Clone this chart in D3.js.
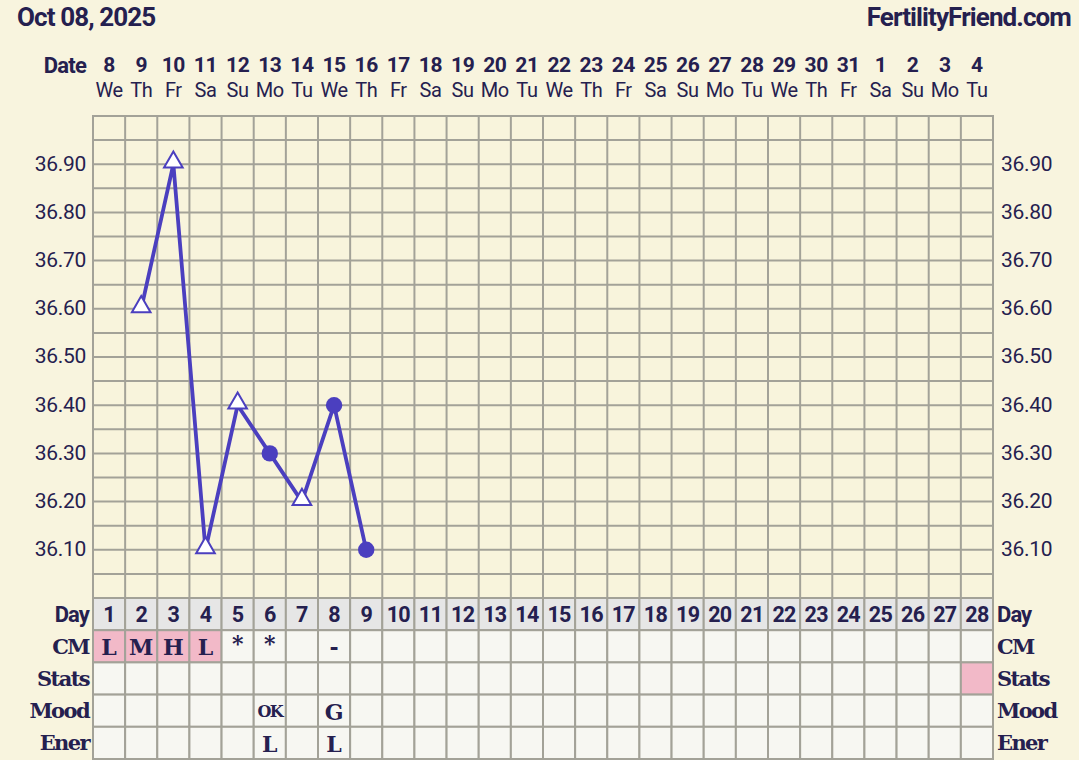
<!DOCTYPE html>
<html><head><meta charset="utf-8">
<script src="https://cdn.jsdelivr.net/npm/d3@7"></script>
<style>
html,body{margin:0;padding:0;background:#f8f4de;}
svg{display:block;}
</style></head>
<body>
<svg id="chart" width="1079" height="760"></svg>
<script>
// ---- data ----
const title = "Oct 08, 2025";
const brand = "FertilityFriend.com";
const dates = ["8","9","10","11","12","13","14","15","16","17","18","19","20","21","22","23","24","25","26","27","28","29","30","31","1","2","3","4"];
const weekdays = ["We","Th","Fr","Sa","Su","Mo","Tu","We","Th","Fr","Sa","Su","Mo","Tu","We","Th","Fr","Sa","Su","Mo","Tu","We","Th","Fr","Sa","Su","Mo","Tu"];
const cycleDays = d3.range(1, 29);
const tempDays = [2, 3, 4, 5, 6, 7, 8, 9];
const temps = [36.60, 36.90, 36.10, 36.40, 36.30, 36.20, 36.40, 36.10];
const markers = ["tri","tri","tri","tri","dot","tri","dot","dot"];
const yTicks = [36.10, 36.20, 36.30, 36.40, 36.50, 36.60, 36.70, 36.80, 36.90];
const rowLabels = ["Day","CM","Stats","Mood","Ener"];
const cmValues = ["L","M","H","L","*","*","","-"];
const cmPink = [1,2,3,4];
const statsPink = [28];
const moodValues = {6:"OK", 8:"G"};
const enerValues = {6:"L", 8:"L"};

// ---- layout ----
const svg = d3.select("#chart");
const W = 1079, H = 760;
const pLeft = 93, pRight = 993, pTop = 116, pBottom = 598;
const rowH = 32.2;
const navy = "#25204f", gridC = "#a3a298", lineC = "#4b3fbf";

svg.append("rect").attr("width", W).attr("height", H).attr("fill", "#f8f4de");

const x = d3.scaleBand().domain(cycleDays).range([pLeft, pRight]).padding(0);
const y = d3.scaleLinear().domain([36.0, 37.0]).range([pBottom, pTop]);
const cx = d => x(d) + x.bandwidth() / 2;

// header texts
svg.append("text").attr("x", 17).attr("y", 26).text(title)
  .attr("font-family", "Roboto").attr("font-weight", "bold").attr("font-size", 26)
  .attr("letter-spacing", -0.9).attr("fill", navy);
svg.append("text").attr("x", 1071).attr("y", 26).attr("text-anchor", "end").text(brand)
  .attr("font-family", "Roboto").attr("font-weight", "bold").attr("font-size", 26)
  .attr("letter-spacing", -0.9).attr("fill", navy);
svg.append("text").attr("x", 86).attr("y", 73).attr("text-anchor", "end").text("Date")
  .attr("font-family", "Roboto").attr("font-weight", "bold").attr("font-size", 22)
  .attr("letter-spacing", -0.8).attr("fill", navy);

svg.append("g").selectAll("text").data(dates).join("text")
  .attr("x", (d, i) => cx(cycleDays[i])).attr("y", 72).attr("text-anchor", "middle")
  .attr("font-family", "Roboto").attr("font-weight", "bold").attr("font-size", 21)
  .attr("letter-spacing", -0.4).attr("fill", navy).text(d => d);
svg.append("g").selectAll("text").data(weekdays).join("text")
  .attr("x", (d, i) => cx(cycleDays[i])).attr("y", 97).attr("text-anchor", "middle")
  .attr("font-family", "Roboto").attr("font-size", 20).attr("letter-spacing", -0.4)
  .attr("fill", navy).text(d => d);

// plot background
svg.append("rect").attr("x", pLeft).attr("y", pTop).attr("width", pRight - pLeft).attr("height", pBottom - pTop)
  .attr("fill", "#f8f4dc");

// grid
const hLines = d3.range(0, 21).map(i => 36.0 + i * 0.05);
svg.append("g").selectAll("line").data(hLines).join("line")
  .attr("x1", pLeft).attr("x2", pRight).attr("y1", d => y(d)).attr("y2", d => y(d))
  .attr("stroke", gridC).attr("stroke-width", 2);
svg.append("g").selectAll("line").data(d3.range(0, 29)).join("line")
  .attr("x1", i => pLeft + i * x.bandwidth()).attr("x2", i => pLeft + i * x.bandwidth())
  .attr("y1", pTop - 1).attr("y2", pBottom)
  .attr("stroke", gridC).attr("stroke-width", 2);

// y labels
const fmt = d3.format(".2f");
svg.append("g").selectAll("text").data(yTicks).join("text")
  .attr("x", 86).attr("y", d => y(d) - 1).attr("dy", "0.35em").attr("text-anchor", "end")
  .attr("font-family", "Roboto").attr("font-size", 21).attr("letter-spacing", -0.3)
  .attr("fill", navy).text(d => fmt(d));
svg.append("g").selectAll("text").data(yTicks).join("text")
  .attr("x", 1001).attr("y", d => y(d) - 1).attr("dy", "0.35em").attr("text-anchor", "start")
  .attr("font-family", "Roboto").attr("font-size", 21).attr("letter-spacing", -0.3)
  .attr("fill", navy).text(d => fmt(d));

// temperature line
const pts = tempDays.map((d, i) => ({day: d, t: temps[i], m: markers[i]}));
svg.append("path").datum(pts)
  .attr("d", d3.line().x(d => cx(d.day)).y(d => y(d.t)))
  .attr("fill", "none").attr("stroke", lineC).attr("stroke-width", 3.8).attr("stroke-linejoin", "round");

const triSym = d3.symbol().type(d3.symbolTriangle).size(150);
svg.append("g").selectAll("path").data(pts.filter(p => p.m === "tri")).join("path")
  .attr("transform", d => `translate(${cx(d.day)},${y(d.t) - 2})`)
  .attr("d", triSym).attr("fill", "#ffffff").attr("stroke", lineC).attr("stroke-width", 2);
svg.append("g").selectAll("circle").data(pts.filter(p => p.m === "dot")).join("circle")
  .attr("cx", d => cx(d.day)).attr("cy", d => y(d.t)).attr("r", 8.2).attr("fill", lineC);

// table
const rowTop = i => pBottom + i * rowH;
const table = svg.append("g");
rowLabels.forEach((lab, r) => {
  table.append("g").selectAll("rect").data(cycleDays).join("rect")
    .attr("x", d => x(d)).attr("y", rowTop(r)).attr("width", x.bandwidth()).attr("height", rowH)
    .attr("fill", d => {
      if (r === 0) return "#e6e6e6";
      if (r === 1 && cmPink.includes(d)) return "#f2b9c8";
      if (r === 2 && statsPink.includes(d)) return "#f2b9c8";
      return "#f7f7f2";
    })
    .attr("stroke", gridC).attr("stroke-width", 2);
  const isDay = r === 0;
  const ff = isDay ? "Roboto" : "'DejaVu Serif'";
  [[89, "end"], [997, "start"]].forEach(([xx, anchor]) => {
    table.append("text").attr("x", xx).attr("y", rowTop(r) + rowH / 2).attr("dy", "0.35em")
      .attr("text-anchor", anchor).attr("font-family", ff).attr("font-weight", "bold")
      .attr("font-size", isDay ? 22 : 21).attr("letter-spacing", isDay ? -0.9 : -1.6)
      .attr("fill", navy).text(lab);
  });
});

// day numbers
table.append("g").selectAll("text").data(cycleDays).join("text")
  .attr("x", d => cx(d)).attr("y", rowTop(0) + rowH / 2).attr("dy", "0.36em").attr("text-anchor", "middle")
  .attr("font-family", "Roboto").attr("font-weight", "bold").attr("font-size", 21.5)
  .attr("letter-spacing", -0.7).attr("fill", navy).text(d => d);

// CM values
table.append("g").selectAll("text").data(cmValues.map((v, i) => ({day: i + 1, v})).filter(d => d.v))
  .join("text")
  .attr("x", d => cx(d.day))
  .attr("y", d => rowTop(1) + (d.v === "*" ? 13 : rowH / 2 + 1))
  .attr("dy", "0.36em").attr("text-anchor", "middle")
  .attr("font-family", "'DejaVu Serif'").attr("font-weight", "bold")
  .attr("font-size", d => d.v === "*" ? 22 : 22).attr("fill", navy).text(d => d.v);

// Mood / Ener
const cellText = (obj, r) => table.append("g").selectAll("text")
  .data(Object.entries(obj).map(([k, v]) => ({day: +k, v}))).join("text")
  .attr("x", d => cx(d.day)).attr("y", rowTop(r) + rowH / 2 + 1).attr("dy", "0.36em").attr("text-anchor", "middle")
  .attr("font-family", "'DejaVu Serif'").attr("font-weight", "bold")
  .attr("font-size", d => d.v.length > 1 ? 16 : 22).attr("letter-spacing", d => d.v.length > 1 ? -1.6 : 0)
  .attr("fill", navy).text(d => d.v);
cellText(moodValues, 3);
cellText(enerValues, 4);
</script>
</body></html>
